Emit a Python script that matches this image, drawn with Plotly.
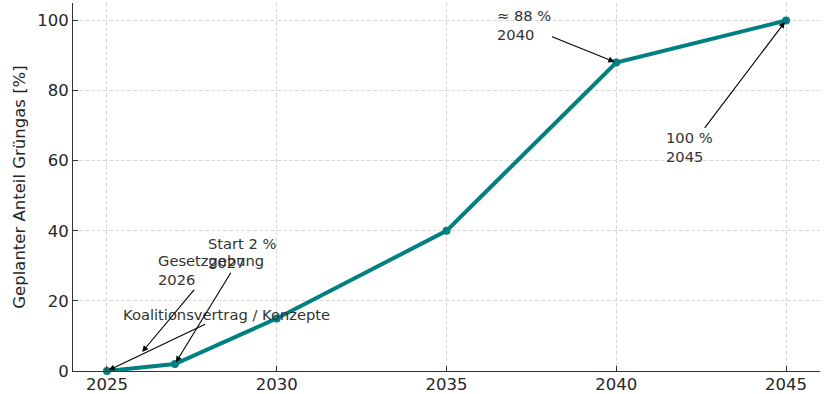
import plotly.graph_objects as go

years = [2025, 2027, 2030, 2035, 2040, 2045]
share = [0, 2, 15, 40, 88, 100]

ann_text = ["Koalitionsvertrag / Konzepte", "Gesetzgebung<br>2026", "Start 2 %<br>2027",
            "≈ 88 %<br>2040", "100 %<br>2045"]
ann_target_x = [2025, 2026, 2027, 2040, 2045]
ann_target_y = [0, 5, 2, 88, 100]
ann_text_x = [2028.51, 2028.05, 2029.0, 2037.27, 2042.17]
ann_text_y = [16.2, 28.8, 33.6, 98.6, 63.8]

x_ticks = [2025, 2030, 2035, 2040, 2045]
y_ticks = [0, 20, 40, 60, 80, 100]

FONT = "DejaVu Sans"

fig = go.Figure()
fig.add_trace(go.Scatter(
    x=years, y=share, mode="lines+markers",
    line=dict(color="#008080", width=4),
    marker=dict(color="#008080", size=8),
    showlegend=False, cliponaxis=False,
))

for t, tx, ty, ax, ay in zip(ann_text, ann_target_x, ann_target_y, ann_text_x, ann_text_y):
    fig.add_annotation(
        x=tx, y=ty, ax=ax, ay=ay, xref="x", yref="y", axref="x", ayref="y",
        text=t, align="left", showarrow=True,
        arrowhead=2, arrowsize=1.1, arrowwidth=1.1, arrowcolor="black", standoff=2,
        font=dict(family=FONT, size=14.7, color="#333333"),
    )

fig.update_layout(
    width=832, height=394,
    margin=dict(l=73, r=12, t=3, b=23),
    plot_bgcolor="white", paper_bgcolor="white",
    font=dict(family=FONT, size=16.5, color="#262626"),
)
fig.update_xaxes(
    range=[2024, 2046], tickvals=x_ticks, ticktext=[str(v) for v in x_ticks],
    showline=True, linecolor="#333333", linewidth=1, mirror=False,
    ticks="inside", ticklen=5, tickcolor="#333333",
    showgrid=True, gridcolor="#d9d9d9", griddash="4px,2px", gridwidth=1,
    zeroline=False, automargin=False, ticklabelstandoff=-2,
)
fig.update_yaxes(
    range=[0, 105], tickvals=y_ticks,
    title=dict(text="Geplanter Anteil Grüngas [%]", font=dict(family=FONT, size=16.5), standoff=7),
    showline=True, linecolor="#333333", linewidth=1, mirror=False,
    ticks="inside", ticklen=5, tickcolor="#333333",
    showgrid=True, gridcolor="#d9d9d9", griddash="4px,2px", gridwidth=1,
    zeroline=False, automargin=False,
)

fig.write_html(
    "out.html",
    config={"displayModeBar": False},
    post_script="document.body.style.margin='0';document.body.style.overflow='hidden';",
)
